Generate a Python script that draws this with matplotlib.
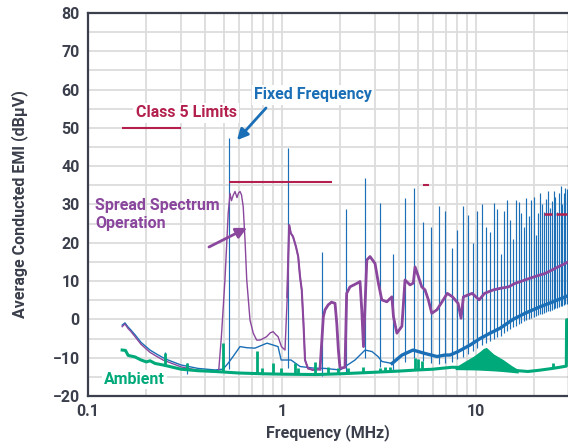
import numpy as np
import matplotlib
matplotlib.use("Agg")
import matplotlib.pyplot as plt
from matplotlib.ticker import LogLocator, NullFormatter, MultipleLocator

# ---------------- data ----------------
# Fixed-frequency noise floor
ff_base_freq = [0.15, 0.155, 0.161, 0.1666, 0.1747, 0.1876, 0.2087, 0.2215, 0.2435, 0.2585,
                0.3016, 0.369, 0.4514, 0.4965, 0.5267, 0.5592, 0.6074, 0.66, 0.7256, 0.8369,
                0.9537, 0.99, 1.113, 1.238, 1.445, 1.666, 1.991, 2.379, 2.679, 2.910,
                3.125, 3.278, 3.690, 4.156, 4.734, 5.460, 6.295, 6.923, 7.345, 8.075,
                9.314, 10.49, 11.81, 13.30, 15.51, 17.89, 21.38, 24.95, 29.8]
ff_base_db = [-1.5, -0.9, -2.0, -2.8, -4.0, -6.0, -8.0, -8.8, -10.0, -10.6,
              -11.9, -12.8, -13.2, -13.0, -11.5, -9.7, -7.1, -7.4, -7.5, -6.2,
              -7.1, -10.6, -10.6, -12.3, -12.7, -12.8, -13.2, -10.6, -8.0, -8.4,
              -9.7, -11.0, -11.5, -9.3, -8.0, -8.9, -9.7, -9.3, -9.3, -8.4,
              -6.7, -5.0, -3.6, -2.3, 0.0, 1.6, 3.3, 4.6, 6.2]
# Fixed-frequency switching harmonics (MHz, peak dBuV)
ff_spike_freq = [0.2493, 0.3238,
                 0.535, 1.07, 1.605, 2.14, 2.675, 3.21, 3.745, 4.28, 4.815, 5.35,
                 5.885, 6.42, 6.955, 7.49, 8.025, 8.56, 9.095, 9.63, 10.165, 10.7,
                 11.235, 11.77, 12.305, 12.84, 13.375, 13.91, 14.445, 14.98, 15.515, 16.05,
                 16.585, 17.12, 17.655, 18.19, 18.725, 19.26, 19.795, 20.33, 20.865, 21.4,
                 21.935, 22.47, 23.005, 23.54, 24.075, 24.61, 25.145, 25.68, 26.215, 26.75,
                 27.285, 27.82, 28.355, 28.89, 29.425]
ff_spike_db = [-8.4, -11.4,
               47.3, 44.7, 17.7, 28.7, 36.8, 30.3, 17.1, 31.8, 34.2, 25.5,
               24.0, 29.6, 28.3, 18.6, 23.4, 29.5, 27.2, 20.0, 28.2, 30.1,
               24.1, 22.8, 30.4, 28.8, 17.2, 28.2, 31.1, 26.0, 21.0, 31.1,
               30.6, 27.8, 24.0, 31.7, 27.0, 31.3, 31.9, 22.0, 27.8, 33.0,
               30.0, 28.0, 31.5, 33.4, 29.0, 31.0, 33.6, 32.0, 28.0, 33.0,
               34.7, 30.0, 33.0, 34.3, 34.0]

# Spread-spectrum operation
ss_freq = [0.15, 0.155, 0.161, 0.1666, 0.1747, 0.1876, 0.2087, 0.2215, 0.2435, 0.2585,
           0.3016, 0.369, 0.4514, 0.472, 0.487, 0.508, 0.528, 0.5395, 0.549, 0.561,
           0.5726, 0.586, 0.597, 0.6074, 0.6183, 0.631, 0.6446, 0.658, 0.684, 0.711,
           0.740, 0.770, 0.800, 0.833, 0.870, 0.900, 0.930, 0.954, 0.993, 1.036,
           1.064, 1.088, 1.110, 1.140, 1.180, 1.212, 1.238, 1.264, 1.290, 1.314,
           1.361, 1.445, 1.570, 1.633, 1.666, 1.730, 1.800, 1.876, 1.915, 1.952,
           1.991, 2.112, 2.154, 2.241, 2.430, 2.524, 2.576, 2.630, 2.735, 2.842,
           3.016, 3.140, 3.268, 3.469, 3.684, 3.754, 3.908, 4.148, 4.305, 4.568,
           4.749, 4.850, 5.045, 5.250, 5.460, 5.680, 5.914, 6.285, 6.681, 7.11,
           7.56, 8.085, 8.369, 8.61, 9.55, 10.38, 11.06, 12.27, 13.30, 14.70,
           15.89, 17.89, 20.15, 22.69, 25.55, 28.77, 29.8]
ss_db = [-1.9, -1.2, -2.4, -3.2, -4.5, -6.5, -8.6, -9.4, -10.6, -11.1,
         -12.4, -13.3, -13.7, -13.2, -4.5, 10.3, 27.7, 32.9, 31.0, 32.5,
         33.4, 31.8, 33.0, 33.4, 32.5, 29.4, 20.7, 10.3, -0.2, -3.6,
         -5.4, -5.4, -5.0, -4.5, -3.5, -3.2, -4.0, -4.5, -7.1, -8.0,
         5.9, 24.6, 22.5, 21.6, 19.0, 16.4, 11.2, 7.7, -1.0, -10.6,
         -12.8, -13.2, -13.0, 0.7, 2.5, 3.8, 4.5, 4.2, -1.0, -8.0,
         -12.8, -12.5, 6.8, 8.5, 9.4, 9.9, 2.5, -7.1, 15.5, 16.4,
         14.6, 9.4, 5.1, 4.6, 5.9, 0.7, -3.6, -1.8, 10.3, 9.0,
         9.5, 13.7, 11.2, 8.5, 7.7, 5.1, 1.6, 2.5, 4.6, 6.8,
         5.9, 4.2, 0.3, 5.9, 6.8, 5.1, 6.8, 7.7, 8.1, 8.5,
         9.4, 10.3, 11.2, 12.0, 13.3, 14.6, 15.0]

# Ambient
amb_freq = [0.15, 0.156, 0.161, 0.1747, 0.1876, 0.200, 0.2087, 0.2215, 0.2435, 0.2585,
            0.3016, 0.369, 0.4514, 0.60, 0.80, 1.0, 1.5, 2.0, 3.0, 4.0,
            5.0, 6.0, 7.5, 10.0, 13.0, 16.5, 18.5, 21.0, 24.0, 27.0,
            29.2, 29.3, 29.8]
amb_db = [-8.0, -8.1, -9.4, -9.8, -10.6, -11.1, -10.8, -11.5, -11.9, -12.2,
          -13.0, -13.4, -13.6, -14.0, -14.2, -14.3, -14.4, -14.2, -13.8, -13.5,
          -13.2, -13.0, -12.5, -12.6, -12.9, -13.4, -13.6, -13.3, -12.9, -12.5,
          -12.2, -0.1, -0.1]
amb_hump_freq = [7.8, 8.57, 9.7, 10.5, 10.9, 11.3, 12.3, 13.8, 15.2, 16.5]
amb_hump_db = [-12.5, -11.2, -9.6, -8.3, -7.6, -7.3, -9.0, -10.5, -12.0, -13.1]
amb_spike_freq = [0.2493, 0.3238, 0.4965, 0.7433, 0.79, 0.8987, 0.99, 1.167, 1.21, 1.48,
                  1.726, 1.944, 2.2, 2.6, 3.2, 3.4, 3.6, 4.85, 5.05, 5.27, 25.0]
amb_spike_db = [-8.8, -11.4, -6.2, -8.3, -12.8, -11.5, -12.8, -11.5, -12.8, -11.0,
                -12.3, -12.8, -12.8, -12.5, -12.6, -12.4, -12.4, -10.0, -10.3, -10.8, -11.4]

# CISPR 25 Class 5 average limits
limit_start = [0.15, 0.53, 5.35]
limit_end = [0.3, 1.8, 5.72]
limit_db = [50, 36, 35]
limit_dash_start = [22.4, 25.85]
limit_dash_end = [24.6, 29.4]
limit_dash_db = [27.4, 27.4]

x_ticks = [0.1, 1, 10]
x_tick_labels = ["0.1", "1", "10"]
y_ticks = list(range(-20, 81, 10))

# ---------------- style ----------------
C_BLUE = "#1b6fb6"
C_PURPLE = "#8a479d"
C_GREEN = "#00a979"
C_LIMIT = "#b3204e"
C_TEXT = "#3b3f4b"
C_GRID = "#dcdcdc"

plt.rcParams["font.family"] = ["Roboto", "DejaVu Sans"]
plt.rcParams["font.weight"] = "bold"

fig = plt.figure(figsize=(5.68, 4.43), dpi=100)
ax = fig.add_axes([88 / 568, 47 / 443, 480.6 / 568, 383 / 443])

ax.set_xscale("log")
ax.set_xlim(0.1, 30)
ax.set_ylim(-20, 80)


def base_at(freqs, bf, bd):
    return np.interp(np.log10(freqs), np.log10(bf), bd)


# fixed frequency
ff_f = np.array(ff_base_freq)
ff_d = np.array(ff_base_db)
ax.plot(ff_f, ff_d, color=C_BLUE, lw=1.0, zorder=3)
thick = ff_f >= 3.6
ax.plot(ff_f[thick], ff_d[thick], color=C_BLUE, lw=2.4, zorder=3, solid_joinstyle="round")
sf = np.array(ff_spike_freq)
ax.vlines(sf, base_at(sf, ff_base_freq, ff_base_db) - 2.0, ff_spike_db,
          color=C_BLUE, lw=0.85, zorder=3)

# spread spectrum
ss_f = np.array(ss_freq)
ss_d = np.array(ss_db)
ax.plot(ss_f, ss_d, color=C_PURPLE, lw=1.0, zorder=4)
mid = (ss_f >= 1.06) & (ss_f <= 1.6)
ax.plot(ss_f[mid], ss_d[mid], color=C_PURPLE, lw=1.5, zorder=4, solid_joinstyle="round")
thick = ss_f >= 1.57
ax.plot(ss_f[thick], ss_d[thick], color=C_PURPLE, lw=2.0, zorder=4, solid_joinstyle="round")

# ambient
ax.plot(amb_freq, amb_db, color=C_GREEN, lw=2.2, zorder=5)
hf = np.array(amb_hump_freq)
ax.fill_between(hf, base_at(hf, amb_freq, amb_db) - 0.6, amb_hump_db,
                color=C_GREEN, lw=0, zorder=5)
af = np.array(amb_spike_freq)
ax.vlines(af, base_at(af, amb_freq, amb_db), amb_spike_db, color=C_GREEN, lw=2.0, zorder=5)

# limits
ax.hlines(limit_db, limit_start, limit_end, color=C_LIMIT, lw=1.5, zorder=6)
ax.hlines(limit_dash_db, limit_dash_start, limit_dash_end, color=C_LIMIT, lw=1.8, zorder=6)

# annotations
box = dict(facecolor="white", edgecolor="none", pad=1.5)
ax.text(0.320, 53.9, "Class 5 Limits", color=C_LIMIT, fontsize=11.5, fontweight="bold",
        ha="center", va="center", bbox=box, zorder=7)
ax.text(1.445, 58.6, "Fixed Frequency", color=C_BLUE, fontsize=11.5, fontweight="bold",
        ha="center", va="center", bbox=box, zorder=7)
ax.annotate("", xy=(0.586, 46.8), xytext=(0.827, 55.2),
            arrowprops=dict(arrowstyle="-|>", color=C_BLUE, lw=2.0, mutation_scale=16,
                            shrinkA=0, shrinkB=0), zorder=7)
ax.text(0.1087, 27.3, "Spread Spectrum\nOperation", color=C_PURPLE, fontsize=11.5,
        fontweight="bold", ha="left", va="center", linespacing=1.25, zorder=7)
ax.annotate("", xy=(0.660, 23.9), xytext=(0.4203, 18.9),
            arrowprops=dict(arrowstyle="-|>", color=C_PURPLE, lw=2.0, mutation_scale=16,
                            shrinkA=0, shrinkB=0), zorder=7)
ax.text(0.1736, -15.6, "Ambient", color=C_GREEN, fontsize=11.5, fontweight="bold",
        ha="center", va="center", bbox=box, zorder=7)

# axes styling
ax.set_xticks(x_ticks)
ax.set_xticklabels(x_tick_labels)
ax.xaxis.set_minor_locator(LogLocator(base=10, subs=np.arange(2, 10)))
ax.xaxis.set_minor_formatter(NullFormatter())
ax.set_yticks(y_ticks)
ax.yaxis.set_minor_locator(MultipleLocator(5))
ax.tick_params(which="both", length=0, colors=C_TEXT, labelsize=11.5, pad=6)
for lab in ax.get_xticklabels() + ax.get_yticklabels():
    lab.set_fontweight("bold")
ax.grid(which="both", color=C_GRID, lw=1.3)
ax.set_axisbelow(True)
for sp in ax.spines.values():
    sp.set_color(C_TEXT)
    sp.set_linewidth(1.6)
    sp.set_zorder(8)

ax.set_xlabel("Frequency (MHz)", fontsize=11.5, fontweight="bold", color=C_TEXT)
ax.set_ylabel("Average Conducted EMI (dBμV)", fontsize=11.5, fontweight="bold", color=C_TEXT)
ax.xaxis.set_label_coords(0.5, -0.073)
ax.yaxis.set_label_coords(-60 / 480.6, 0.5)

fig.savefig("out.png", dpi=100)
